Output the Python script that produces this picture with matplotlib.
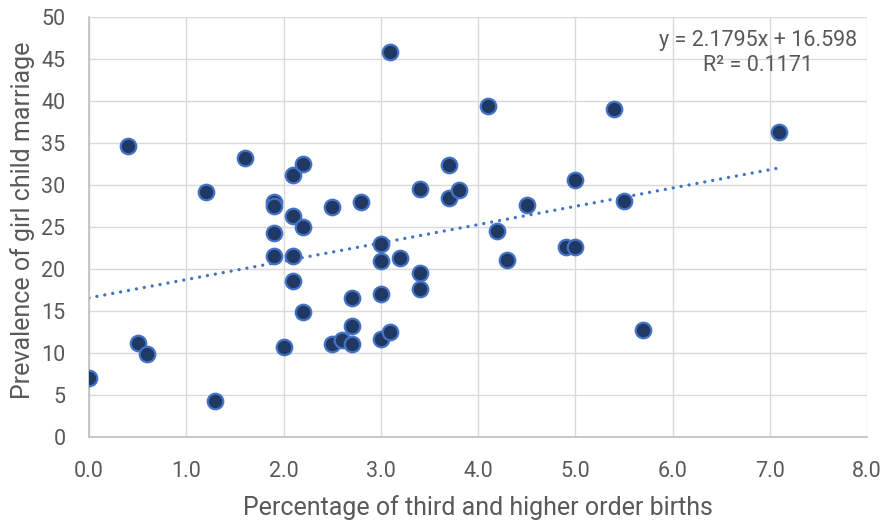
import matplotlib
matplotlib.use("Agg")
import matplotlib.pyplot as plt
import numpy as np

# Data
third_births = [0.0, 0.4, 0.5, 0.6, 1.2, 1.3, 1.6, 1.9, 1.9, 1.9, 1.9, 2.0, 2.1, 2.2,
                2.1, 2.2, 2.1, 2.1, 2.2, 2.5, 2.5, 2.6, 2.7, 2.7, 2.7, 2.8, 3.0, 3.0,
                3.0, 3.0, 3.1, 3.1, 3.2, 3.4, 3.4, 3.4, 3.7, 3.7, 3.8, 4.1, 4.2, 4.3,
                4.5, 4.9, 5.0, 5.0, 5.4, 5.5, 5.7, 7.1]
child_marriage = [7.1, 34.7, 11.2, 9.9, 29.2, 4.3, 33.3, 28.0, 27.5, 24.3, 21.6, 10.7, 31.2, 32.5,
                  26.4, 25.0, 21.6, 18.6, 14.9, 27.4, 11.1, 11.6, 11.1, 13.2, 16.6, 28.0, 23.0, 21.0,
                  17.1, 11.7, 12.5, 45.9, 21.3, 29.6, 19.6, 17.7, 32.4, 28.5, 29.5, 39.4, 24.6, 21.1,
                  27.7, 22.7, 22.7, 30.6, 39.1, 28.1, 12.8, 36.4]
slope = 2.1795
intercept = 16.598
r_squared = 0.1171
x_ticks = [0, 1, 2, 3, 4, 5, 6, 7, 8]
y_ticks = [0, 5, 10, 15, 20, 25, 30, 35, 40, 45, 50]

plt.rcParams['font.family'] = ['Roboto', 'DejaVu Sans']

fig = plt.figure(figsize=(8.86, 5.23), dpi=100)
ax = fig.add_axes([89/886, 1 - 437.3/523, (867 - 89)/886, (437.3 - 17.3)/523])

ax.set_xlim(0, 8)
ax.set_ylim(0, 50)
ax.set_xticks(x_ticks)
ax.set_xticklabels([f"{v:.1f}" for v in x_ticks])
ax.set_yticks(y_ticks)
ax.grid(True, color='#D9D9D9', linewidth=1.0)
ax.set_axisbelow(True)
for s in ['top', 'right']:
    ax.spines[s].set_visible(False)
for s in ['left', 'bottom']:
    ax.spines[s].set_color('#BFBFBF')
    ax.spines[s].set_linewidth(1.2)
ax.tick_params(length=0, colors='#595959', labelsize=15.5)
ax.tick_params(axis='x', pad=17)
ax.tick_params(axis='y', pad=17)

# trendline
xs = np.array([0.0, max(third_births)])
ax.plot(xs, slope * xs + intercept, color='#4472C4', linewidth=2.4,
        linestyle=(0, (0.01, 2.4)), dash_capstyle='round', zorder=2)

ax.scatter(third_births, child_marriage, s=125, facecolor='#203864',
           edgecolor='#4472C4', linewidth=1.6, zorder=3)

ax.text(758/886, 1 - 53/523, f"y = {slope}x + {intercept}\nR² = {r_squared}",
        transform=fig.transFigure, ha='center', va='center', fontsize=15.5,
        color='#595959', linespacing=1.2)

ax.set_xlabel("Percentage of third and higher order births", fontsize=18,
              color='#595959')
ax.set_ylabel("Prevalence of girl child marriage", fontsize=18,
              color='#595959')
ax.xaxis.set_label_coords(478/886, 1 - 495/523, transform=fig.transFigure)
ax.yaxis.set_label_coords(35/886, 1 - 220/523, transform=fig.transFigure)

fig.savefig("out.png", dpi=100)
